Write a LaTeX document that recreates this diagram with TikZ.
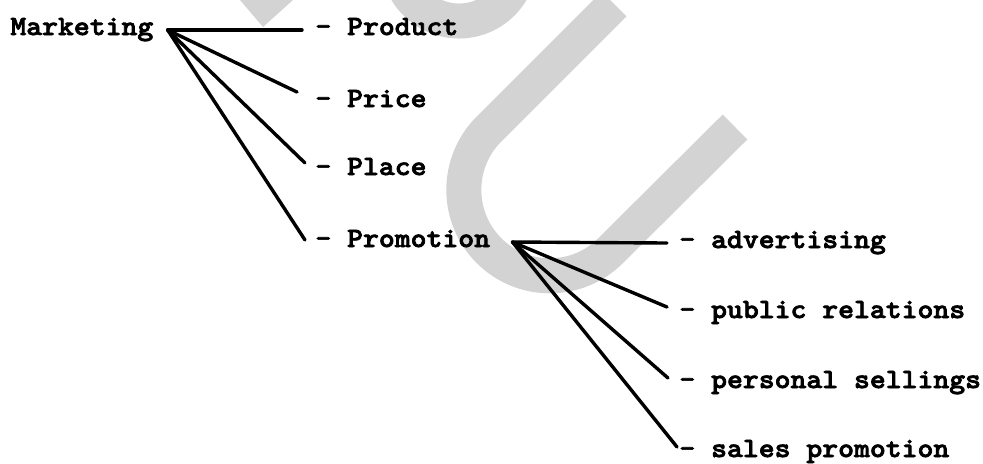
\documentclass[tikz,border=0pt]{standalone}
\usepackage{fontspec}
\newfontfamily\typewriter[Extension=.otf,FakeStretch=1.08,FakeBold=2.6]{lmmonolt10-bold}
\usetikzlibrary{positioning}
\definecolor{wmgray}{RGB}{211,211,211}
\tikzset{
    item/.style={anchor=base west, inner xsep=5pt, inner ysep=0pt,
        text height=9pt, text depth=0pt,
        font=\typewriter\fontsize{14}{16}\selectfont},
    branch/.style={line width=1.7pt, line cap=round},
    band/.style={draw=wmgray, line width=17.5pt}
}
\begin{document}
\begin{tikzpicture}[x=0.5pt,y=-0.5pt]
    \useasboundingbox (0,0) rectangle (983,463);
    %grey letters behind
    \fill[wmgray] (240,0) -- (293,0) -- (263,27) -- cycle;
    \path[band] (459,-40) ++(200:30.5pt) arc[start angle=200, end angle=340, radius=30.5pt];
    \path[band] (614,4) -- (489,129) arc[start angle=135, end angle=315, radius=43pt] -- (735,127);
    %first level
    \node[item] (mkt) at (0,35) {Marketing};
    \coordinate (mhub) at ([xshift=2pt,yshift=-2pt]mkt.east);
    \foreach \n/\y/\txt in {prod/35/Product, price/107/Price, place/175/Place, promo/247/Promotion}
        {%
            \node[item] (\n) at (305,\y) {- \txt};
        }
    \foreach \n/\dx/\dy in {prod/-1.5/-2, price/-4/3, place/0/1.5, promo/0/-1}
        {%
            \draw[branch] (mhub) -- ([xshift=\dx pt,yshift=\dy pt]\n.west);
        }
    %second level
    \coordinate (phub) at ([xshift=6pt,yshift=-2pt]promo.east);
    \foreach \n/\y/\txt in {adv/248/advertising, pub/318/public relations, pers/388/personal sellings, sales/457/sales promotion}
        {%
            \node[item] (\n) at (669,\y) {- \txt};
        }
    \foreach \n/\dx/\dy in {adv/-1/-2, pub/-1/1, pers/-0.5/0.5, sales/4/0.5}
        {%
            \draw[branch] (phub) -- ([xshift=\dx pt,yshift=\dy pt]\n.west);
        }
\end{tikzpicture}
\end{document}
